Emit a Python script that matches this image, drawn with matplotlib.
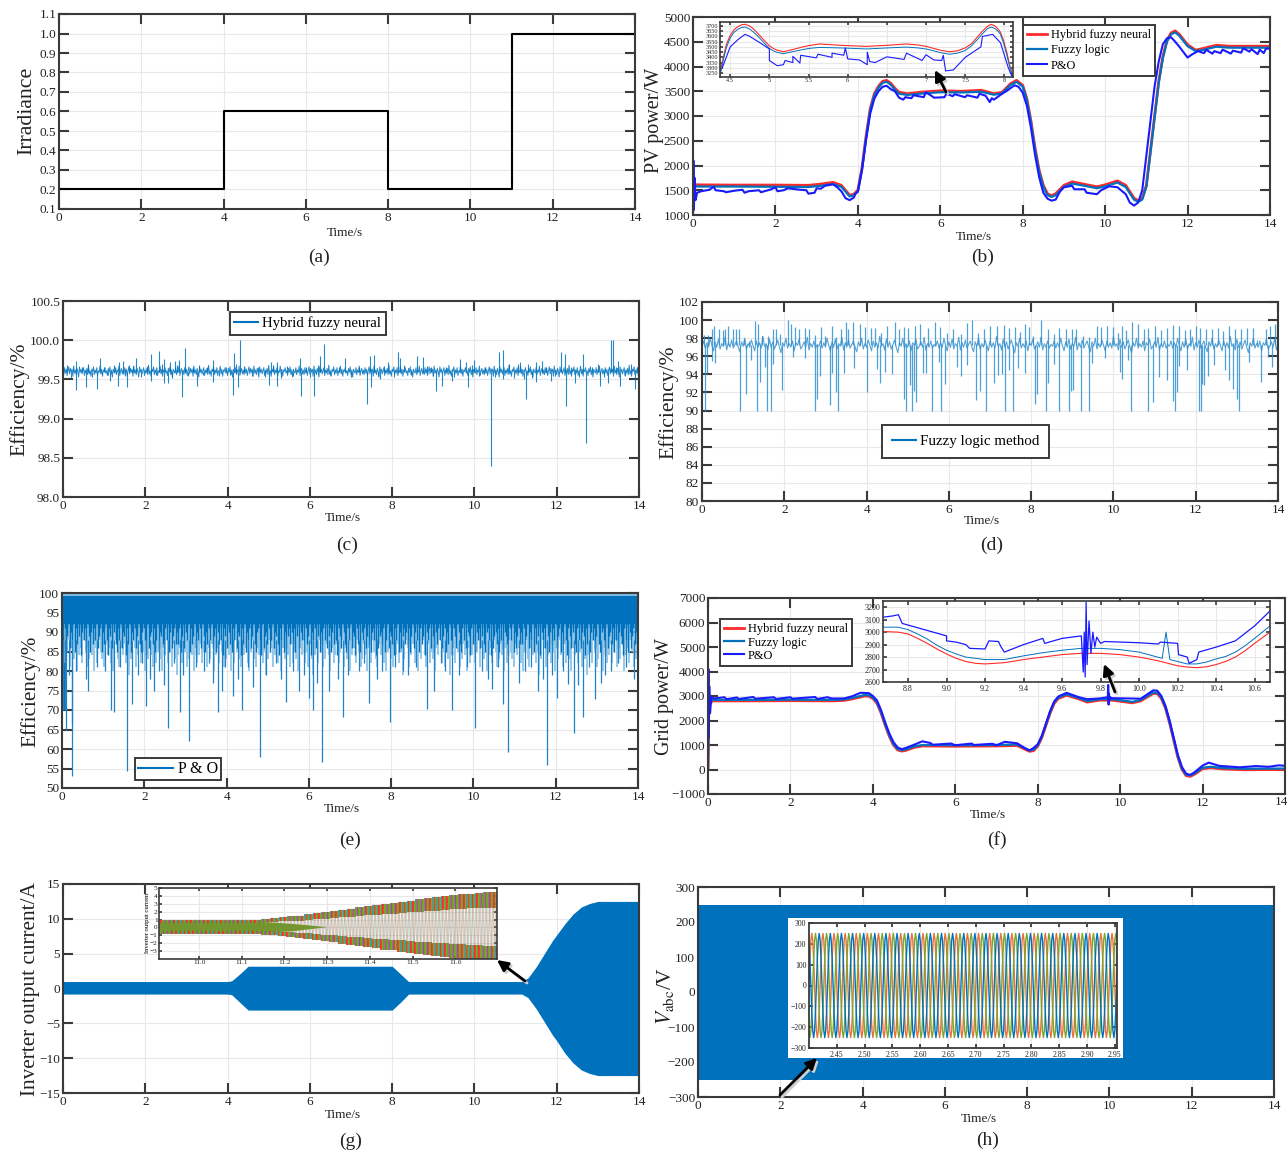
import matplotlib
matplotlib.use('Agg')
import matplotlib.pyplot as plt
from matplotlib.patches import FancyArrowPatch, Rectangle
import numpy as np

plt.rcParams['font.family'] = ['Liberation Serif', 'DejaVu Serif']
plt.rcParams['mathtext.fontset'] = 'stix'

W, H = 1287, 1151
DARK = '#3a3a3a'
BLUE = '#0072BD'
RED = '#ff2a2a'
PO = '#1a1aff'

# (a) irradiance
irr_t = [0, 4, 4, 8, 8, 11, 11, 14]
irr_v = [0.2, 0.2, 0.6, 0.6, 0.2, 0.2, 1.0, 1.0]

# (b) PV power
pv_t = [0, 0.02, 0.1, 1, 2, 2.8, 3.1, 3.4, 3.6, 3.8, 3.9, 4.0, 4.1, 4.2, 4.3, 4.4, 4.5, 4.6, 4.7, 4.8, 4.9, 5.0,
        5.2, 5.5, 6, 6.5, 7, 7.3, 7.5, 7.7, 7.85, 8, 8.1, 8.2, 8.3, 8.4, 8.5, 8.6, 8.7, 8.8, 9, 9.2, 9.5, 9.8,
        10, 10.3, 10.5, 10.7, 10.8, 10.9, 11, 11.1, 11.2, 11.3, 11.4, 11.5, 11.6, 11.7, 11.8, 12, 12.2, 12.4,
        12.7, 13, 14]
pv_hybrid = [1500, 1620, 1610, 1605, 1605, 1600, 1625, 1660, 1600, 1400, 1420, 1500, 1950, 2600, 3150, 3450, 3600,
             3700, 3720, 3660, 3560, 3480, 3450, 3480, 3510, 3500, 3520, 3450, 3480, 3650, 3720, 3620, 3350, 2900,
             2350, 1900, 1600, 1430, 1390, 1430, 1600, 1670, 1620, 1570, 1610, 1690, 1600, 1340, 1290, 1340, 1600,
             2300, 3000, 3700, 4200, 4530, 4680, 4720, 4650, 4440, 4330, 4370, 4430, 4410, 4410]
pv_fuzzy = [1450, 1590, 1575, 1575, 1570, 1565, 1590, 1625, 1570, 1375, 1395, 1480, 1930, 2570, 3120, 3420, 3570,
            3670, 3690, 3630, 3530, 3450, 3425, 3450, 3480, 3475, 3490, 3430, 3455, 3625, 3690, 3595, 3320, 2870,
            2320, 1870, 1570, 1400, 1365, 1400, 1570, 1635, 1590, 1540, 1580, 1655, 1565, 1310, 1265, 1310, 1570,
            2270, 2970, 3670, 4170, 4500, 4650, 4690, 4620, 4410, 4310, 4340, 4400, 4380, 4380]
pv_po_t = [0, 0.01, 0.02, 0.04, 0.06, 0.1, 0.2, 0.4, 0.5, 0.55, 0.75, 0.8, 1.0, 1.2, 1.25, 1.35, 1.6, 1.65, 1.9, 2,
           2.05, 2.2, 2.3, 2.6, 2.75, 2.8, 2.95, 3.0, 3.1, 3.2, 3.4, 3.5, 3.6, 3.7, 3.8, 3.9, 3.95, 4.0, 4.1, 4.2,
           4.3, 4.4, 4.5, 4.6, 4.7, 4.8, 4.9, 5.0, 5.1, 5.15, 5.3, 5.35, 5.6, 5.65, 5.8, 5.85, 6.1, 6.15, 6.3, 6.35,
           6.6, 6.65, 6.9, 6.95, 7.1, 7.2, 7.25, 7.3, 7.5, 7.6, 7.7, 7.8, 7.9, 8.0, 8.1, 8.2, 8.3, 8.4, 8.5, 8.6,
           8.7, 8.8, 8.9, 9.0, 9.2, 9.25, 9.5, 9.55, 9.8, 9.9, 10.1, 10.3, 10.5, 10.6, 10.7, 10.8, 10.9, 11, 11.1,
           11.2, 11.3, 11.4, 11.5, 11.6, 11.7, 11.8, 11.9, 12.0, 12.1, 12.25, 12.4, 12.45, 12.6, 12.65, 12.8, 12.85,
           13.05, 13.1, 13.3, 13.35, 13.5, 13.55, 13.7, 13.75, 13.85, 13.9, 14]
pv_po = [1000, 2100, 1100, 1750, 1300, 1450, 1480, 1510, 1570, 1500, 1480, 1460, 1490, 1510, 1450, 1480, 1500, 1460,
         1520, 1560, 1480, 1500, 1540, 1510, 1500, 1430, 1450, 1540, 1530, 1590, 1620, 1560, 1480, 1340, 1300, 1350,
         1440, 1470, 1900, 2520, 3050, 3350, 3500, 3590, 3610, 3540, 3500, 3370, 3330, 3380, 3360, 3420, 3380, 3480,
         3400, 3370, 3380, 3450, 3400, 3440, 3380, 3420, 3370, 3450, 3410, 3280, 3360, 3330, 3450, 3500, 3560, 3620,
         3590, 3470, 3210, 2760, 2210, 1760, 1450, 1330, 1290, 1310, 1470, 1560, 1590, 1520, 1520, 1450, 1420, 1500,
         1580, 1560, 1420, 1250, 1190, 1250, 1500, 2200, 2900, 3600, 4100, 4450, 4570, 4590, 4500, 4400, 4290, 4180,
         4240, 4310, 4270, 4340, 4260, 4310, 4270, 4340, 4260, 4320, 4280, 4370, 4300, 4350, 4250, 4340, 4270, 4360, 4360]
pvz_t = [4.37, 4.41, 4.45, 4.5, 4.55, 4.6, 4.65, 4.69, 4.75, 4.8, 4.85, 4.9, 4.95, 5.0, 5.05, 5.1, 5.18, 5.3, 5.4, 5.5,
         5.64, 5.8, 6.0, 6.24, 6.5, 6.75, 6.9, 7.0, 7.1, 7.2, 7.3, 7.4, 7.5, 7.58, 7.65, 7.72, 7.78, 7.83, 7.88, 7.92,
         7.95, 7.99, 8.03, 8.07, 8.11]
pvz_hybrid = [3250, 3390, 3520, 3610, 3665, 3695, 3712, 3716, 3700, 3670, 3630, 3590, 3550, 3510, 3485, 3468, 3454,
              3475, 3495, 3512, 3528, 3520, 3512, 3505, 3515, 3528, 3518, 3505, 3485, 3465, 3454, 3462, 3490, 3530, 3590,
              3650, 3695, 3716, 3700, 3670, 3640, 3560, 3450, 3320, 3212]
pvz_fuzzy = [3225, 3365, 3490, 3585, 3640, 3670, 3686, 3690, 3670, 3640, 3605, 3565, 3525, 3485, 3462, 3447, 3435,
             3455, 3470, 3485, 3495, 3492, 3488, 3480, 3490, 3498, 3490, 3480, 3462, 3442, 3430, 3440, 3465, 3510, 3565,
             3625, 3672, 3690, 3675, 3648, 3620, 3535, 3425, 3300, 3212]
pvz_po_t = [4.4, 4.5, 4.6, 4.69, 4.75, 4.9, 5.0, 5.0, 5.1, 5.18, 5.2, 5.3, 5.3, 5.39, 5.4, 5.6, 5.62, 5.8, 5.8, 5.95,
            5.97, 6.0, 6.15, 6.25, 6.25, 6.28, 6.35, 6.5, 6.72, 6.75, 6.95, 7.0, 7.1, 7.2, 7.22, 7.25, 7.35, 7.5,
            7.6, 7.7, 7.72, 7.85, 7.95, 8.05, 8.1]
pvz_po = [3300, 3500, 3570, 3620, 3600, 3530, 3480, 3370, 3320, 3330, 3370, 3350, 3410, 3345, 3420, 3395, 3430, 3400,
          3440, 3420, 3490, 3385, 3375, 3330, 3450, 3360, 3350, 3405, 3380, 3440, 3370, 3425, 3375, 3370, 3420, 3270,
          3280, 3400, 3450, 3500, 3600, 3620, 3540, 3300, 3212]

# (c) hybrid efficiency: noisy core and spikes off it
c_base = 99.6
c_noise = [99.62, 99.56, 99.65, 99.58, 99.63, 99.55, 99.61, 99.66, 99.57, 99.64, 99.59, 99.63, 99.54, 99.67, 99.58,
           99.62, 99.56, 99.64, 99.6, 99.53, 99.66, 99.59, 99.63, 99.57, 99.61, 99.65, 99.55, 99.62, 99.58, 99.64,
           99.56, 99.68, 99.57, 99.61, 99.54, 99.63, 99.6, 99.66, 99.56, 99.62, 99.58, 99.65, 99.55, 99.61, 99.59,
           99.67, 99.57, 99.63, 99.54, 99.62, 99.6, 99.65, 99.58, 99.61, 99.55, 99.64, 99.59, 99.66, 99.56, 99.62,
           99.53, 99.63, 99.6, 99.58, 99.65, 99.56, 99.62, 99.59, 99.67, 99.55, 99.61, 99.64, 99.57]
c_spike_t = [0.32, 0.9, 1.35, 1.45, 1.6, 1.78, 2.15, 2.33, 2.45, 2.6, 2.72, 2.82, 2.97, 3.3, 3.65, 4.15, 4.2, 4.3, 5.05,
             5.2, 5.75, 6.25, 6.35, 6.85, 7.45, 7.57, 7.9, 8.15, 8.2, 8.6, 8.75, 8.95, 9.65, 9.8, 10.0, 10.6, 10.7,
             11.1, 11.5, 11.65, 12.1, 12.2, 12.65, 13.0, 13.33, 13.37, 13.5, 13.8,
             0.32, 0.55, 0.82, 1.15, 1.33, 1.55, 2.15, 2.45, 2.55, 2.9, 3.25, 3.65, 4.12, 4.25, 5.0, 5.2, 5.78, 6.1,
             7.4, 7.48, 7.7, 9.07, 9.2, 9.45, 9.85, 10.4, 10.7, 11.25, 11.5, 11.85, 12.22, 12.45, 12.72, 13.05, 13.25,
             13.55, 13.9,
             0.1, 0.2, 0.45, 0.6, 0.7, 1.0, 1.1, 1.25, 1.5, 1.7, 1.9, 2.05, 2.25, 2.4, 2.65, 2.77, 3.05, 3.15, 3.4,
             3.5, 3.8, 3.95, 4.05, 4.4, 4.6, 4.75, 4.9, 5.1, 5.3, 5.45, 5.6, 5.9, 6.0, 6.2, 6.5, 6.7, 7.0, 7.2, 7.65,
             7.8, 8.05, 8.3, 8.45, 8.85, 9.0, 9.3, 9.5, 9.95, 10.1, 10.25, 10.5, 10.85, 10.95, 11.05, 11.2, 11.3,
             11.4, 11.75, 11.95, 12.35, 12.55, 12.85, 13.15, 13.45, 13.65, 13.95]
c_spike_v = [99.74, 99.77, 99.72, 99.73, 99.68, 99.77, 99.82, 99.86, 99.76, 99.72, 99.74, 99.75, 99.9, 99.68, 99.75,
             99.84, 99.7, 100.0, 99.72, 99.72, 99.77, 99.8, 99.95, 99.77, 99.8, 99.81, 99.72, 99.85, 99.77, 99.8,
             99.78, 99.66, 99.76, 99.72, 99.75, 99.85, 99.88, 99.72, 99.72, 99.74, 99.85, 99.82, 99.83, 99.7, 100.0,
             100.0, 99.74, 99.7,
             99.37, 99.4, 99.38, 99.48, 99.41, 99.4, 99.48, 99.45, 99.45, 99.27, 99.41, 99.47, 99.3, 99.4, 99.43,
             99.41, 99.29, 99.29, 99.18, 99.4, 99.5, 99.35, 99.41, 99.48, 99.4, 98.39, 99.5, 99.25, 99.47, 99.48,
             99.16, 99.46, 98.69, 99.41, 99.45, 99.42, 99.38,
             99.68, 99.52, 99.66, 99.7, 99.53, 99.66, 99.55, 99.68, 99.54, 99.67, 99.53, 99.67, 99.55, 99.7, 99.52,
             99.69, 99.54, 99.66, 99.55, 99.66, 99.54, 99.66, 99.55, 99.67, 99.54, 99.66, 99.53, 99.68, 99.52, 99.67,
             99.54, 99.66, 99.53, 99.68, 99.55, 99.66, 99.53, 99.66, 99.54, 99.67, 99.53, 99.68, 99.55, 99.67, 99.54,
             99.66, 99.53, 99.68, 99.54, 99.66, 99.53, 99.7, 99.52, 99.7, 99.51, 99.7, 99.52, 99.66, 99.54, 99.66,
             99.53, 99.66, 99.53, 99.66, 99.54, 99.66]

# (d) fuzzy logic efficiency
d_base = 97.3
d_noise = [97.1, 97.7, 96.9, 97.5, 97.0, 98.0, 97.2, 96.6, 97.6, 97.0, 97.9, 96.8, 97.4, 97.1, 98.1, 96.7, 97.5, 97.0,
           97.8, 96.9, 97.3, 97.7, 97.0, 96.5, 97.6, 97.1, 98.0, 96.8, 97.4, 97.0, 97.8, 97.2, 96.6, 97.7, 97.0, 97.5,
           96.9, 98.2, 97.1, 97.4, 96.7, 97.9, 97.0, 97.6, 96.8, 97.3, 97.8, 97.0, 96.4, 97.5, 97.1, 98.0, 96.9, 97.4,
           97.0, 97.7, 96.6, 97.5, 97.2, 97.9, 96.8, 97.1, 97.6, 97.0, 98.1, 96.7, 97.4, 97.0, 97.7, 96.9, 97.3]
d_down_t = [0.08, 0.93, 1.33, 1.58, 1.68, 2.75, 3.3, 4.95, 5.1, 5.58, 5.82, 6.9, 7.37, 7.55, 8.35, 8.68, 8.92, 9.2,
            9.4, 10.42, 10.85, 11.5, 12.08, 12.12, 13.05, 1.08, 1.95, 2.8, 3.1, 3.25, 4.0, 4.9, 5.05, 5.15, 5.2, 5.9,
            6.65, 6.75, 7.1, 8.1, 8.15, 8.4, 8.97, 9.02, 10.95, 11.45, 11.55, 12.15, 12.2, 12.9, 13.0,
            0.12, 0.25, 0.32, 1.2, 1.4, 1.52, 1.72, 2.2, 2.5, 2.88, 3.15, 3.45, 3.7, 4.25, 4.33, 4.45, 4.62, 5.38,
            5.45, 5.75, 6.2, 6.3, 6.45, 7.2, 7.3, 7.45, 7.67, 7.85, 8.55, 9.48, 9.8, 10.15, 10.2, 10.35, 11.1, 11.3,
            11.6, 11.8, 12.3, 12.45, 12.7, 12.8, 13.3, 13.58, 13.75, 13.85]
d_down_v = [90, 90, 90, 90, 90, 90, 90, 90, 90, 90, 90, 90, 90, 90, 90, 90, 90, 90, 90, 90, 90, 90, 90, 90, 90, 91.8,
            92.3, 91.3, 90.6, 92, 92, 91.3, 92.8, 92.2, 90.9, 92.9, 91.2, 92.2, 93, 90.7, 91.8, 93, 92.2, 92.3, 90.9,
            91, 92, 92.9, 92.8, 92.4, 91.3,
            94.2, 95.5, 95.3, 95.6, 93.2, 94.8, 95.2, 95.9, 95.8, 93.8, 94.2, 94.1, 94.7, 94.6, 93, 94.3, 94, 94.1,
            94.2, 95.4, 94.8, 93.8, 95, 93.9, 94, 94.5, 94.7, 94.1, 95.2, 95.3, 95.8, 94.3, 93.5, 95.6, 93.7, 93.4,
            94.9, 94.5, 93.8, 95, 94.5, 93.4, 95.4, 93.2, 95.9, 94.8]
d_up_t = [0.05, 0.15, 0.25, 0.3, 0.42, 0.5, 0.57, 0.63, 0.76, 0.82, 0.9, 1.02, 1.15, 1.3, 1.36, 1.45, 1.6, 1.72, 1.8,
          1.9, 2.1, 2.17, 2.25, 2.35, 2.5, 2.6, 2.75, 2.9, 3.0, 3.15, 3.25, 3.37, 3.5, 3.55, 3.67, 3.85, 3.95, 4.1,
          4.2, 4.35, 4.5, 4.7, 4.8, 4.9, 5.0, 5.18, 5.3, 5.5, 5.67, 5.78, 5.95, 6.1, 6.3, 6.45, 6.57, 6.7, 6.85, 7.0,
          7.18, 7.33, 7.45, 7.6, 7.72, 7.85, 7.95, 8.05, 8.25, 8.42, 8.55, 8.68, 8.85, 9.0, 9.1, 9.25, 9.4, 9.6, 9.7,
          9.85, 10.0, 10.1, 10.2, 10.3, 10.45, 10.6, 10.75, 10.85, 11.0, 11.15, 11.3, 11.45, 11.6, 11.75, 11.85, 12.0,
          12.1, 12.25, 12.4, 12.55, 12.67, 12.8, 12.95, 13.1, 13.25, 13.4, 13.5, 13.7, 13.8, 13.93, 13.98]
d_up_v = [98.4, 98.3, 99, 99.3, 99, 98.9, 99, 99.3, 99, 99, 99, 97.9, 97.7, 99.9, 99.6, 98.2, 98.2, 99, 99, 98.5, 100,
          99.6, 99.2, 99, 99.1, 99, 98.4, 99.2, 98.2, 99.3, 98.1, 99, 99.8, 99, 99.8, 99.6, 99.2, 99.1, 99.1, 98.6,
          99.3, 99.8, 99, 99.2, 99.1, 99.4, 99.6, 99.1, 99.8, 99.2, 98.6, 99, 98.5, 99.7, 100, 98.6, 99, 99.3, 99.4,
          99.5, 99.1, 99.2, 98.7, 99.6, 99.2, 98.2, 100, 99, 98.5, 99.1, 99, 99, 99, 98.2, 98.1, 99.4, 99.2, 99.3,
          99.2, 98.6, 99.4, 98.9, 99.8, 99.6, 99, 99.1, 99.3, 98.9, 99.1, 99.5, 99.3, 98.9, 99, 99.4, 99.1, 99, 99,
          99.1, 98.8, 99.4, 99, 99, 99.1, 99.1, 97.8, 99, 99.4, 99.6, 99.3]

# (e) P&O efficiency: dense core, dark fingers, lighter skirt, deep spikes
e_core_t = [0, 0.1, 0.1, 14]
e_core_lo = [70, 70, 91, 91]
e_finger = [90, 87, 91, 85, 89, 92, 86, 90, 88, 92, 85, 91, 87, 89, 92, 84, 90, 88, 91, 86, 92, 89, 85, 90, 87, 91, 88,
            92, 86, 89, 91, 85, 90, 87, 92, 88, 84, 91, 89, 86, 92, 90, 87, 85, 91, 88, 92, 86, 90, 89, 84, 91, 87, 92,
            85, 90, 88, 91, 86, 89, 92, 87, 85, 90, 91, 88, 84, 92, 86, 89, 90, 87, 91, 85, 88, 92, 86, 90, 89, 87, 84,
            91, 88, 92, 85, 90, 86, 89, 91, 87]
e_skirt = [84, 87, 82, 85, 88, 81, 86, 83, 87, 80, 84, 86, 82, 88, 85, 81, 83, 87, 84, 80, 86, 82, 88, 85, 83, 81, 87,
           84, 86, 82, 80, 85, 88, 83, 81, 86, 84, 87, 82, 85, 79, 83, 88, 86, 81, 84, 87, 82, 85, 80, 86, 83, 88, 84,
           81, 87, 82, 85, 83, 80, 86, 84, 88, 82, 85, 81, 87, 83, 79, 84, 86, 82, 88, 85, 81, 83, 87, 84, 80, 86, 82]
e_spike_t = [0.03, 0.07, 0.1, 0.25, 0.25, 0.62, 1.2, 1.27, 1.57, 1.71, 2.04, 2.24, 2.48, 2.58, 2.87, 3.09, 3.68, 3.8,
             3.89, 4.15, 4.38, 4.81, 5.45, 5.75, 6.0, 6.1, 6.33, 6.5, 6.83, 7.45, 7.98, 8.87, 9.05, 9.48, 10.05, 10.45,
             10.72, 10.83, 11.57, 11.78, 12.02, 12.3, 12.45, 12.67, 12.96, 13.09,
             0.16, 0.35, 0.58, 0.85, 1.05, 1.4, 1.85, 1.95, 2.15, 2.35, 2.72, 2.95, 3.25, 3.45, 3.58, 3.95, 4.28, 4.52,
             4.65, 4.95, 5.2, 5.33, 5.62, 5.88, 6.2, 6.7, 6.95, 7.22, 7.35, 7.65, 7.78, 8.1, 8.3, 8.42, 8.6, 9.2, 9.32,
             9.65, 9.85, 10.2, 10.35, 10.6, 11.1, 11.25, 11.4, 11.7, 11.9, 12.18, 12.55, 12.8, 13.2, 13.35, 13.52,
             13.7, 13.9]
e_spike_v = [70, 70, 65, 53, 66.5, 75, 70, 69.5, 54.3, 71.5, 71, 75, 76.5, 65.4, 69.5, 62, 76.8, 69.5, 74.8, 73.5, 70,
             58, 72, 74.8, 73, 70, 56.6, 75, 68.3, 71.7, 67, 70.3, 75, 70, 65.4, 75.5, 71.5, 59.2, 74.8, 56, 73, 76.7,
             64, 68.2, 72.8, 76.8,
             79, 80, 78, 81, 80, 81, 79, 82, 78, 80, 82, 79, 81, 80, 82, 81, 78, 81, 76, 79, 82, 78, 80, 79, 77, 78,
             79, 80, 82, 78, 80, 81, 80, 79, 81, 82, 80, 79, 81, 80, 78, 81, 77, 80, 81, 78, 79, 80, 76.5, 81, 79,
             80, 82, 81, 78]

# (f) grid power
gp_t = [0, 0.02, 0.1, 1, 2, 3, 3.3, 3.5, 3.8, 3.9, 4.0, 4.1, 4.2, 4.3, 4.4, 4.5, 4.6, 4.7, 4.8, 5.0, 5.2, 6, 7, 7.5,
        7.8, 7.9, 8.0, 8.1, 8.2, 8.3, 8.4, 8.5, 8.7, 9, 9.2, 9.5, 9.8, 10.3, 10.5, 10.8, 10.9, 11.0, 11.1, 11.2,
        11.3, 11.4, 11.5, 11.6, 11.7, 11.8, 12, 12.2, 12.5, 13, 14]
gp_hybrid = [0, 2600, 2800, 2800, 2810, 2800, 2820, 2880, 3000, 2990, 2900, 2700, 2300, 1800, 1350, 1000, 800, 750,
             780, 900, 960, 950, 960, 980, 740, 770, 950, 1300, 1800, 2300, 2700, 2900, 3030, 2880, 2750, 2830, 2830,
             2720, 2800, 3100, 3100, 2900, 2500, 1900, 1200, 500, 0, -250, -280, -200, 30, 70, 20, -10, 0]
gp_fuzzy = [0, 2650, 2840, 2840, 2850, 2840, 2860, 2920, 3040, 3030, 2940, 2740, 2340, 1840, 1390, 1040, 840, 790, 820,
            940, 1000, 990, 1000, 1020, 780, 810, 990, 1340, 1840, 2340, 2740, 2940, 3070, 2920, 2790, 2870, 2870,
            2760, 2840, 3140, 3140, 2940, 2540, 1940, 1240, 540, 40, -210, -240, -160, 70, 110, 60, 30, 40]
gp_po_t = [0, 0.01, 0.02, 0.03, 0.05, 0.08, 0.15, 0.4, 0.45, 0.7, 0.75, 1.1, 1.15, 1.6, 1.65, 2.0, 2.05, 2.6, 2.65, 2.9,
           3.0, 3.3, 3.5, 3.7, 3.9, 4.0, 4.1, 4.2, 4.3, 4.4, 4.5, 4.6, 4.7, 4.8, 5.0, 5.2, 5.4, 5.45, 5.9, 6.0, 6.4,
           6.45, 6.9, 7.0, 7.2, 7.5, 7.7, 7.8, 7.9, 8.0, 8.1, 8.2, 8.3, 8.4, 8.5, 8.7, 9, 9.2, 9.5, 9.7, 9.71, 9.72,
           9.73, 9.74, 9.75, 9.8, 10.2, 10.5, 10.8, 10.9, 11.0, 11.1, 11.2, 11.3, 11.4, 11.5, 11.6, 11.7, 11.8, 12,
           12.15, 12.4, 12.9, 13.3, 13.6, 13.85, 14]
gp_po = [0, 4100, 1300, 3400, 2300, 2950, 2900, 2950, 2870, 2940, 2880, 2960, 2890, 2950, 2880, 2950, 2890, 2960, 2880,
         2950, 2900, 2900, 2990, 3130, 3120, 3000, 2820, 2420, 1920, 1470, 1120, 900, 830, 880, 1010, 1150, 1080, 1010,
         1060, 990, 1060, 1000, 1050, 990, 1130, 1070, 860, 780, 880, 1030, 1380, 1880, 2380, 2780, 2980, 3130, 2950,
         2870, 2900, 2950, 3450, 2650, 3100, 2820, 2950, 2910, 2900, 2890, 3230, 3220, 3000, 2600, 2000, 1300, 600, 100,
         -170, -220, -120, 160, 280, 150, 90, 140, 110, 170, 150]
gpz_t = [8.67, 8.75, 8.8, 8.85, 8.9, 8.95, 9.0, 9.05, 9.1, 9.15, 9.2, 9.3, 9.4, 9.5, 9.6, 9.7, 9.8, 9.9, 10.0, 10.1, 10.2,
         10.25, 10.3, 10.35, 10.4, 10.45, 10.5, 10.55, 10.6, 10.68]
gpz_hybrid = [3005, 3000, 2985, 2950, 2910, 2865, 2825, 2790, 2765, 2750, 2745, 2755, 2780, 2800, 2820, 2830, 2830, 2820,
              2800, 2770, 2730, 2720, 2715, 2722, 2740, 2765, 2800, 2850, 2910, 3000]
gpz_fuzzy_t = [8.67, 8.75, 8.8, 8.85, 8.9, 8.95, 9.0, 9.05, 9.1, 9.2, 9.3, 9.4, 9.5, 9.6, 9.7, 9.8, 9.9, 10.0, 10.12,
               10.14, 10.16, 10.25, 10.3, 10.35, 10.4, 10.45, 10.5, 10.55, 10.6, 10.68]
gpz_fuzzy = [3040, 3040, 3020, 2985, 2945, 2895, 2855, 2825, 2800, 2780, 2780, 2810, 2835, 2855, 2870, 2870, 2860, 2840,
             2790, 3000, 2780, 2745, 2745, 2760, 2785, 2805, 2840, 2890, 2950, 3050]
gpz_po_t = [8.67, 8.72, 8.75, 8.77, 9.0, 9.0, 9.05, 9.1, 9.12, 9.2, 9.22, 9.27, 9.28, 9.3, 9.4, 9.5, 9.51, 9.6, 9.7,
            9.71, 9.715, 9.72, 9.725, 9.73, 9.74, 9.75, 9.76, 9.77, 9.78, 9.8, 9.82, 10.0, 10.1, 10.11, 10.2, 10.205,
            10.25, 10.26, 10.3, 10.31, 10.4, 10.5, 10.6, 10.68]
gpz_po = [3120, 3130, 3140, 3070, 2970, 2930, 2920, 2900, 2870, 2865, 2930, 2925, 2890, 2840, 2900, 2950, 2910, 2950,
          2970, 2680, 3000, 2640, 3240, 2740, 3090, 2830, 3000, 2880, 2960, 2910, 2925, 2915, 2905, 2920, 2910, 2820,
          2800, 2750, 2780, 2840, 2880, 2930, 3050, 3170]

# (g) inverter current envelope
cur_t = [0, 4.0, 4.1, 4.3, 4.5, 8.0, 8.2, 8.4, 11.15, 11.3, 11.5, 11.7, 11.9, 12.0, 12.2, 12.4, 12.6, 12.8, 13.0, 14]
cur_hi = [1.0, 1.0, 1.1, 2.1, 3.2, 3.2, 2.1, 1.0, 1.0, 1.5, 3.1, 5.0, 6.9, 7.7, 9.3, 10.7, 11.7, 12.2, 12.5, 12.5]
cur_lo = [-0.8, -0.8, -0.9, -2.0, -3.1, -3.1, -2.0, -0.8, -0.8, -1.3, -2.9, -4.8, -6.7, -7.5, -9.3, -10.7, -11.7, -12.2,
          -12.5, -12.5]
# one typed cycle of a unit phase, and peaks for the inset, one per 0.02 s
unit_cycle = [0, 0.5, 0.87, 1, 0.87, 0.5, 0, -0.5, -0.87, -1, -0.87, -0.5]
curz_start = 10.906
curz_peaks = [0.9, 0.9, 0.9, 0.9, 0.9, 0.9, 0.9, 0.9, 0.9, 0.9, 0.9, 0.9, 1.0, 1.1, 1.2, 1.3, 1.4, 1.55, 1.7, 1.85, 2.0,
              2.15, 2.3, 2.45, 2.6, 2.75, 2.9, 3.0, 3.15, 3.3, 3.45, 3.6, 3.7, 3.85, 4.0, 4.1, 4.2, 4.3, 4.35, 4.4]
curz_band_t = [10.906, 11.14, 11.22, 11.3]
curz_band_hi = [0.8, 0.8, 0.5, 0.1]
curz_band_lo = [-0.7, -0.7, -0.4, 0.1]

# (h) phase voltages
volt_t = [0, 14]
volt_hi = [250, 250]
volt_lo = [-250, -250]
voltz_peak = 250
voltz_start = 2.4
voltz_cycles = 28


def px_axes(left, top, right, bottom, **kw):
    return fig.add_axes([left / W, 1 - bottom / H, (right - left) / W, (bottom - top) / H], **kw)


def style(ax, xlim, ylim, xticks, yticks, fs=9.5, tick=7, lw=1.5, ylabels=None, xlabels=None):
    ax.set_xlim(*xlim)
    ax.set_ylim(*ylim)
    ax.set_xticks(xticks)
    ax.set_yticks(yticks)
    if xlabels is not None:
        ax.set_xticklabels(xlabels)
    if ylabels is not None:
        ax.set_yticklabels(ylabels)
    ax.tick_params(direction='in', top=True, right=True, length=tick, width=lw, color=DARK,
                   labelsize=fs, labelcolor='#222222', pad=2)
    ax.grid(color='#e8e8e8', linewidth=0.8)
    ax.set_axisbelow(True)
    for s in ax.spines.values():
        s.set_color(DARK)
        s.set_linewidth(lw)


def ftext(x, y, s, fs, rot=0):
    fig.text(x / W, 1 - y / H, s, fontsize=fs, rotation=rot, ha='center', va='center', color='#222222')


def farrow(x0, y0, x1, y1):
    # soft shadow first, then the black arrow
    for dx, col, z in [(2, '#cfcfcf', 9), (0, 'black', 10)]:
        fig.add_artist(FancyArrowPatch(((x0 + dx) / W, 1 - (y0 + dx) / H), ((x1 + dx) / W, 1 - (y1 + dx) / H),
                                       transform=fig.transFigure, arrowstyle='-|>', mutation_scale=16,
                                       linewidth=2, color=col, zorder=z, shrinkA=0, shrinkB=0))


def flegend(ax, left, top, fs, pad=0.35, gap=0.25, hlen=1.6):
    leg = ax.legend(loc='upper left', bbox_to_anchor=(left / W, 1 - top / H), bbox_transform=fig.transFigure,
                    fontsize=fs, fancybox=False, framealpha=1, edgecolor=DARK, borderaxespad=0, borderpad=pad,
                    labelspacing=gap, handlelength=hlen, handletextpad=0.3)
    leg.get_frame().set_linewidth(1.4)
    leg.set_zorder(20)


def comb(ax, values, step, bottom, **kw):
    # repeat the typed noise values along the 14 s span
    n = int(14 / step) + 1
    ax.vlines(np.arange(n) * step, bottom, np.resize(values, n), **kw)


def noise_line(ax, values, step, **kw):
    n = int(14 / step) + 1
    ax.plot(np.arange(n) * step, np.resize(values, n), **kw)


fig = plt.figure(figsize=(W / 100, H / 100), dpi=100)
xt = list(range(0, 15, 2))

# (a)
ax = px_axes(59, 14, 635, 209)
ax.plot(irr_t, irr_v, color='black', lw=1.5)
style(ax, (0, 14), (0.1, 1.1), xt, [round(0.1 * i, 1) for i in range(1, 12)])
ftext(27, 111, 'Irradiance', 15.7, 90)
ftext(345, 233, 'Time/s', 9.5)
ftext(319, 257, '(a)', 14)

# (b)
ax = px_axes(693, 17, 1270, 215)
ax.plot(pv_t, pv_hybrid, color=RED, lw=2, label='Hybrid fuzzy neural')
ax.plot(pv_t, pv_fuzzy, color=BLUE, lw=1.6, label='Fuzzy logic')
ax.plot(pv_po_t, pv_po, color=PO, lw=1.5, label='P&O')
style(ax, (0, 14), (1000, 5000), xt, list(range(1000, 5001, 500)))
flegend(ax, 1023, 25, 8.9)
ftext(654, 120, 'PV power/W', 14.5, 90)
ftext(974, 237, 'Time/s', 9.5)
ftext(983, 257, '(b)', 14)

az = px_axes(720, 22, 1013, 77, zorder=5)
az.plot(pvz_t, pvz_hybrid, color=RED, lw=0.8)
az.plot(pvz_t, pvz_fuzzy, color=BLUE, lw=0.7)
az.plot(pvz_po_t, pvz_po, color=PO, lw=0.8)
style(az, (4.37, 8.11), (3212, 3738), [4.5, 5, 5.5, 6, 6.5, 7, 7.5, 8], list(range(3250, 3701, 50)), fs=4.5, tick=2, lw=1.2,
      xlabels=['4.5', '5', '5.5', '6', '', '7', '7.5', '8'])
az.tick_params(pad=1)
farrow(946, 92, 935, 70)

# (c)
ax = px_axes(63, 301, 639, 497)
noise_line(ax, c_noise, 0.02, color=BLUE, lw=0.7, alpha=0.85)
ax.vlines(c_spike_t, c_base, c_spike_v, color=BLUE, lw=0.8, alpha=0.85)
ax.plot([], [], color=BLUE, lw=1.5, label='Hybrid fuzzy neural')
style(ax, (0, 14), (98, 100.5), xt, [98, 98.5, 99, 99.5, 100, 100.5],
      ylabels=['98.0', '98.5', '99.0', '99.5', '100.0', '100.5'])
flegend(ax, 230, 312, 10.6, pad=0.3)
ftext(19, 399, 'Efficiency/%', 15.5, 90)
ftext(343, 518, 'Time/s', 9.5)
ftext(347, 545, '(c)', 14)

# (d)
ax = px_axes(702, 302, 1278, 501)
noise_line(ax, d_noise, 0.04, color=BLUE, lw=0.8, alpha=0.65)
ax.vlines(d_down_t, d_base, d_down_v, color='#2f8fd0', lw=0.9, alpha=0.85)
ax.vlines(d_up_t, d_base, d_up_v, color='#2f8fd0', lw=0.9, alpha=0.85)
ax.plot([], [], color=BLUE, lw=1.5, label='Fuzzy logic method')
style(ax, (0, 14), (80, 102), xt, list(range(80, 103, 2)))
flegend(ax, 882, 425, 10.8, pad=0.65)
ftext(668, 402, 'Efficiency/%', 15.5, 90)
ftext(982, 521, 'Time/s', 9.5)
ftext(992, 545, '(d)', 14)

# (e)
ax = px_axes(62, 593, 638, 788)
comb(ax, e_skirt, 0.041, 92, color='#86c0e6', lw=1.2)
comb(ax, e_finger, 0.031, 93, color=BLUE, lw=1.0)
ax.fill_between(e_core_t, e_core_lo, 99.2, color=BLUE, lw=0)
ax.fill_between([0, 14], 99.2, 99.9, color='#7fbbe3', lw=0)
ax.vlines(e_spike_t, 88, e_spike_v, color='#1f82c8', lw=0.9)
ax.plot([], [], color=BLUE, lw=1.5, label='P & O')
style(ax, (0, 14), (50, 100), xt, list(range(50, 101, 5)))
flegend(ax, 135, 758, 11.5, pad=0.2, hlen=2.2)
ftext(30, 691, 'Efficiency/%', 15.2, 90)
ftext(342, 809, 'Time/s', 9.5)
ftext(350, 840, '(e)', 14)

# (f)
ax = px_axes(708, 598, 1285, 794)
ax.plot(gp_t, gp_hybrid, color=RED, lw=2, label='Hybrid fuzzy neural')
ax.plot(gp_t, gp_fuzzy, color=BLUE, lw=1.6, label='Fuzzy logic')
ax.plot(gp_po_t, gp_po, color=PO, lw=1.5, label='P&O')
style(ax, (0, 14), (-1000, 7000), xt[:-1], list(range(-1000, 7001, 1000)))
flegend(ax, 720, 619, 8.9, gap=0.1)
ftext(665, 697, 'Grid power/W', 14.5, 90)
ftext(988, 815, 'Time/s', 9.5)
ftext(997, 840, '(f)', 14)
ftext(1281, 802, '14', 9.5)

az = px_axes(883, 601, 1270, 682, zorder=5)
az.plot(gpz_t, gpz_hybrid, color=RED, lw=0.8)
az.plot(gpz_fuzzy_t, gpz_fuzzy, color=BLUE, lw=0.7)
az.plot(gpz_po_t, gpz_po, color=PO, lw=0.9)
style(az, (8.67, 10.68), (2600, 3250), [8.8, 9, 9.2, 9.4, 9.6, 9.8, 10, 10.2, 10.4, 10.6],
      list(range(2600, 3201, 100)), fs=5.8, tick=3, lw=1.2,
      xlabels=['8.8', '9.0', '9.2', '9.4', '9.6', '9.8', '10.0', '10.2', '10.4', '10.6'])
farrow(1115, 692, 1104, 664)

# (g)
ax = px_axes(63, 884, 639, 1093)
ax.fill_between(cur_t, cur_lo, cur_hi, color=BLUE, lw=0)
style(ax, (0, 14), (-15, 15), xt, list(range(-15, 16, 5)))
ftext(31, 989, 'Inverter output current/A', 15.3, 90)
ftext(343, 1115, 'Time/s', 9.5)
ftext(351, 1141, '(g)', 14)

az = px_axes(159, 888, 497, 959, zorder=5)
n_s = len(unit_cycle)
amp = np.repeat(curz_peaks, 2 * n_s)
tz = curz_start + np.arange(len(amp)) * 0.01 / n_s
for shift, col in [(0, '#2f8fd0'), (4, RED), (8, '#6aa61e')]:
    wave = amp * np.roll(np.tile(unit_cycle, 2 * len(curz_peaks)), shift) + 0.1
    az.plot(tz, wave, color=col, lw=0.35, alpha=0.5)
    # saturated tips, as the envelope reads in the reference
    tips = np.abs(wave - 0.1) >= 0.99 * amp
    az.vlines(tz[tips], 0.1 + 0.55 * (wave[tips] - 0.1), wave[tips], color=col, lw=1.3)
az.fill_between(curz_band_t, curz_band_lo, curz_band_hi, color='#6aa61e', lw=0)
style(az, (10.906, 11.698), (-4, 5), [11, 11.1, 11.2, 11.3, 11.4, 11.5, 11.6], list(range(-3, 6)), fs=5.2, tick=2.5, lw=1.2)
az.tick_params(pad=1)
fig.text(147 / W, 1 - 923 / H, 'Inverter output current', fontsize=4.8, rotation=90, ha='center', va='center')
farrow(525, 981, 497, 960)

# (h)
ax = px_axes(698, 887, 1274, 1097)
ax.fill_between(volt_t, volt_lo, volt_hi, color=BLUE, lw=0)
style(ax, (0, 14), (-300, 300), xt, list(range(-300, 301, 100)))
ftext(665, 996, r'$V_{\mathrm{abc}}$/V', 15.5, 90)
ftext(979, 1119, 'Time/s', 9.5)
ftext(988, 1140, '(h)', 14)

fig.add_artist(Rectangle((788 / W, 1 - 1058 / H), 335 / W, 140 / H, transform=fig.transFigure,
                         facecolor='white', edgecolor='none', zorder=4))
az = px_axes(809, 923, 1117, 1048, zorder=5)
n_v = voltz_cycles * n_s
tv = voltz_start + np.arange(n_v) * 0.02 / n_s
for shift, col in [(0, '#e8703a'), (4, '#7aa62e'), (8, BLUE)]:
    az.plot(tv, voltz_peak * np.roll(np.tile(unit_cycle, voltz_cycles), shift), color=col, lw=1.0)
style(az, (2.4, 2.954), (-300, 300), [2.45, 2.5, 2.55, 2.6, 2.65, 2.7, 2.75, 2.8, 2.85, 2.9, 2.95],
      list(range(-300, 301, 100)), fs=5.6, tick=3, lw=1.3,
      xlabels=['2.45', '2.50', '2.55', '2.60', '2.65', '2.70', '2.75', '2.80', '2.85', '2.90', '2.95'])
farrow(780, 1095, 817, 1058)

fig.savefig('out.png', dpi=100)
